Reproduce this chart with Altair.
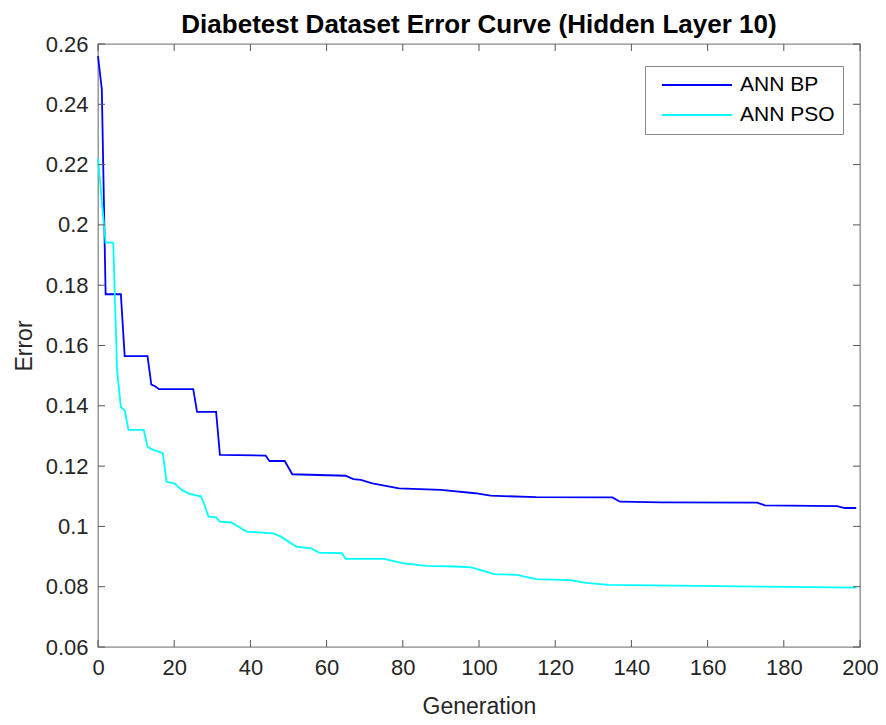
import altair as alt
import pandas as pd

# ---- data ----
bp_gen = [0, 1, 2, 6, 7, 13, 14, 15, 16, 25, 26, 31, 32, 44, 45, 49, 51, 65, 67, 69,
          72, 79, 90, 99, 103, 115, 135, 137, 148, 173, 175, 194, 196, 199]
bp_err = [0.256, 0.245, 0.177, 0.177, 0.1565, 0.1565, 0.147, 0.1465, 0.1455, 0.1455,
          0.138, 0.138, 0.1237, 0.1235, 0.1217, 0.1217, 0.1173, 0.1168, 0.1157, 0.1154,
          0.1143, 0.1126, 0.1121, 0.1110, 0.1102, 0.1097, 0.1096, 0.1082, 0.1080, 0.1079,
          0.1070, 0.1067, 0.1061, 0.1061]

pso_gen = [0, 1, 2, 4, 5, 6, 7, 8, 12, 13, 14, 17, 18, 20, 22, 24, 27, 28, 29, 31,
           32, 35, 39, 46, 48, 52, 56, 58, 64, 65, 75, 80, 86, 94, 98, 104, 110, 115,
           124, 128, 134, 157, 174, 199]
pso_err = [0.222, 0.208, 0.1941, 0.1941, 0.152, 0.1395, 0.1386, 0.132, 0.132, 0.1265,
           0.1256, 0.1243, 0.1148, 0.1143, 0.1121, 0.1108, 0.1100, 0.107, 0.1032, 0.1030,
           0.1016, 0.1013, 0.0983, 0.0977, 0.0966, 0.0933, 0.0927, 0.0913, 0.0911, 0.0892,
           0.0892, 0.0878, 0.0869, 0.0867, 0.0864, 0.0842, 0.0839, 0.0825, 0.0822, 0.0813,
           0.0806, 0.0803, 0.0800, 0.0797]

series_names = ["ANN BP", "ANN PSO"]
series_colors = ["#0000FF", "#00FFFF"]

x_ticks = [0, 20, 40, 60, 80, 100, 120, 140, 160, 180, 200]
y_ticks = [0.06, 0.08, 0.10, 0.12, 0.14, 0.16, 0.18, 0.20, 0.22, 0.24, 0.26]

df = pd.concat([
    pd.DataFrame({"gen": bp_gen, "err": bp_err, "series": series_names[0], "o": range(len(bp_gen))}),
    pd.DataFrame({"gen": pso_gen, "err": pso_err, "series": series_names[1], "o": range(len(pso_gen))}),
])
xt = pd.DataFrame({"gen": x_ticks})
yt = pd.DataFrame({"err": y_ticks})

W, H = 762, 603
TL = 7
FONT = "Liberation Sans"

xscale = alt.Scale(domain=[0, 200], nice=False, zero=False)
yscale = alt.Scale(domain=[0.06, 0.26], nice=False, zero=False)

xaxis = alt.Axis(title="Generation", values=x_ticks, format="d", labelFlush=False)
yaxis = alt.Axis(title="Error", values=y_ticks, format="~g", labelFlush=False)

lines = alt.Chart(df).mark_line(strokeWidth=1.8).encode(
    x=alt.X("gen:Q", scale=xscale, axis=xaxis),
    y=alt.Y("err:Q", scale=yscale, axis=yaxis),
    color=alt.Color("series:N",
                    scale=alt.Scale(domain=series_names, range=series_colors),
                    legend=alt.Legend(title=None, orient="none", legendX=547, legendY=22,
                                      symbolType="stroke", symbolSize=4900,
                                      symbolStrokeWidth=1.8, clipHeight=22,
                                      rowPadding=8, padding=8, symbolOffset=8,
                                      labelOffset=7, labelFontSize=21, labelFont=FONT,
                                      labelColor="#000000",
                                      fillColor="#ffffff", strokeColor="#888888")),
    order="o:Q",
)

tick_color = "#555555"
xb = alt.Chart(xt).mark_rule(color=tick_color, strokeWidth=1).encode(
    x=alt.X("gen:Q", scale=xscale, axis=xaxis), y=alt.value(H), y2=alt.value(H - TL))
xtp = alt.Chart(xt).mark_rule(color=tick_color, strokeWidth=1).encode(
    x=alt.X("gen:Q", scale=xscale, axis=xaxis), y=alt.value(0), y2=alt.value(TL))
yl = alt.Chart(yt).mark_rule(color=tick_color, strokeWidth=1).encode(
    y=alt.Y("err:Q", scale=yscale, axis=yaxis), x=alt.value(0), x2=alt.value(TL))
yr = alt.Chart(yt).mark_rule(color=tick_color, strokeWidth=1).encode(
    y=alt.Y("err:Q", scale=yscale, axis=yaxis), x=alt.value(W), x2=alt.value(W - TL))

chart = alt.layer(lines, xb, xtp, yl, yr).properties(
    width=W, height=H,
    title=alt.TitleParams("Diabetest Dataset Error Curve (Hidden Layer 10)",
                          fontSize=26, fontWeight="bold", font=FONT, color="#000000",
                          anchor="middle", offset=-5, frame="group"),
    autosize=alt.AutoSizeParams(type="none"),
    padding={"left": 90, "top": 36, "right": 18, "bottom": 70},
).configure_view(
    stroke="#888888", strokeWidth=1.3
).configure_axis(
    grid=False, domain=False, ticks=False,
    labelFont=FONT, labelFontSize=22, labelColor="#262626", labelPadding=10,
    titleFont=FONT, titleFontSize=23, titleColor="#262626", titleFontWeight="normal",
).configure_axisX(
    titlePadding=17
).configure_axisY(
    titlePadding=9
)

chart.save("out.html", embed_options={"renderer": "svg", "actions": False})
